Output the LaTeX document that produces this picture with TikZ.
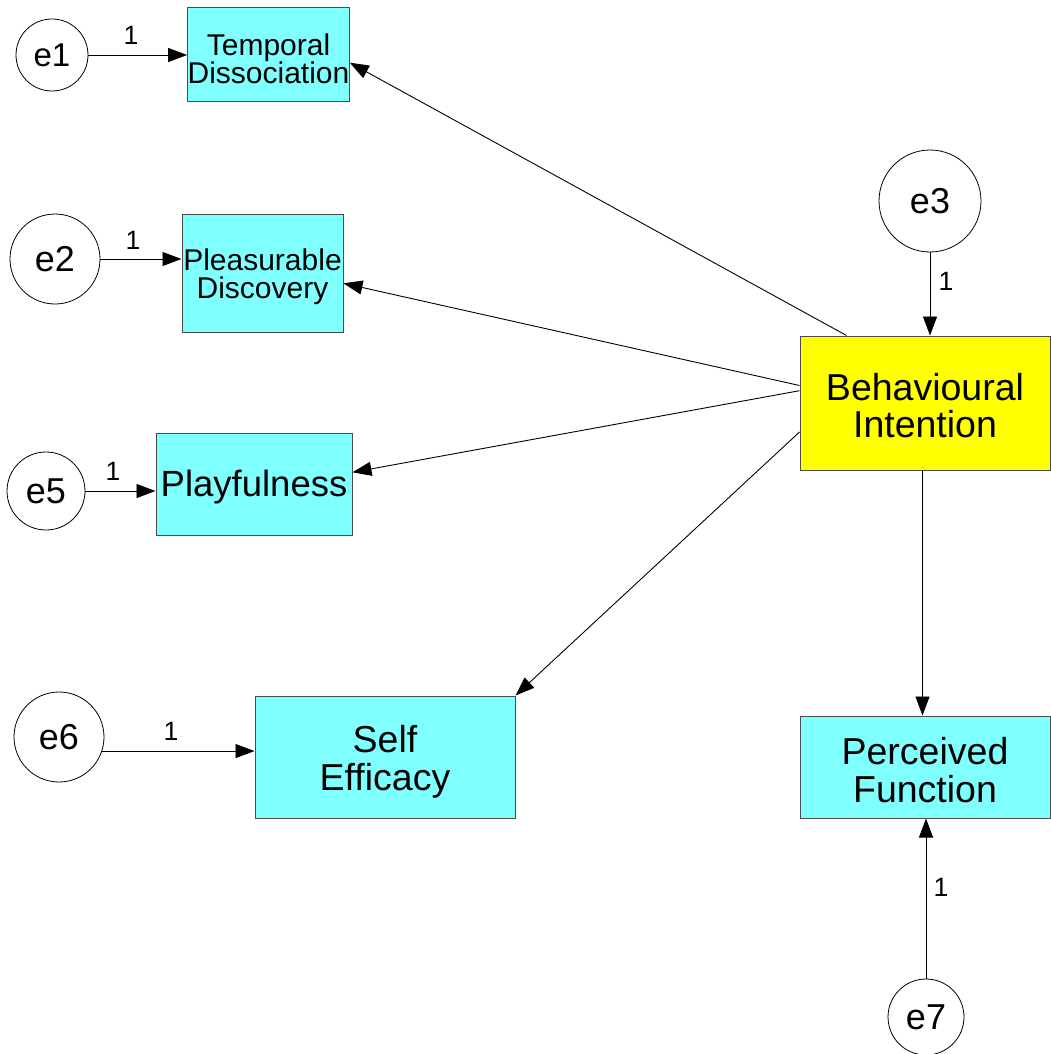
\documentclass[tikz,border=0pt]{standalone}
\usepackage{fontspec}
\setmainfont{Liberation Sans}
\usetikzlibrary{arrows.meta,calc}
\definecolor{boxcyan}{HTML}{80FFFF}
\definecolor{boxyellow}{HTML}{FFFF00}
\newcommand{\smallf}{\fontsize{30}{28}\selectfont}
\newcommand{\bigf}{\fontsize{37.5}{37.5}\selectfont}
\newcommand{\up}[1]{\rule{0pt}{#1pt}}
\begin{document}
\begin{tikzpicture}[x=1pt,y=-1pt,
  varbox/.style={draw=black!70, line width=1pt, fill=boxcyan, inner sep=0pt, align=center},
  errc/.style={circle, draw=black, line width=0.8pt, fill=white, inner sep=0pt, font=\fontsize{36}{36}\selectfont},
  pathto/.style={-{Triangle[length=19pt,width=14pt]}, line width=0.9pt, draw=black},
  one/.style={font=\fontsize{26.5}{26.5}\selectfont, inner sep=0pt}]
\fill[white] (0,0) rectangle (1050,1054);
\useasboundingbox (0,0) rectangle (1050,1054);

% observed / latent boxes
\node[varbox, minimum width=161pt, minimum height=94pt, font=\smallf] (TD) at (268.5,55) {\up{30}Temporal\\Dissociation};
\node[varbox, minimum width=161pt, minimum height=118pt, font=\smallf] (PD) at (262.5,273) {\up{30}Pleasurable\\Discovery};
\node[varbox, minimum width=196pt, minimum height=102pt, font=\fontsize{36.5}{37}\selectfont] (PL) at (254,484) {\up{32}Playfulness};
\node[varbox, minimum width=260pt, minimum height=122pt, font=\bigf] (SE) at (385,757) {\up{37}Self\\Efficacy};
\node[varbox, fill=boxyellow, minimum width=250pt, minimum height=134pt, font=\bigf] (BI) at (925,403) {\up{32}Behavioural\\Intention};
\node[varbox, minimum width=250pt, minimum height=102pt, font=\bigf] (PF) at (925,767) {\up{33}Perceived\\Function};

% error terms
\node[errc, minimum size=72pt, font=\fontsize{33}{33}\selectfont] (e1) at (52,55) {e1};
\node[errc, minimum size=90pt] (e2) at (55,259) {e2};
\node[errc, minimum size=78pt] (e5) at (46,491) {e5};
\node[errc, minimum size=90pt] (e6) at (59,737) {e6};
\node[errc, minimum size=102pt] (e3) at (930,201) {e3};
\node[errc, minimum size=76pt] (e7) at (926,1017) {e7};

% error paths
\draw[pathto] (e1) -- (TD);
\draw[pathto] (e2.east) -- (e2.east -| PD.west);
\draw[pathto] (e5.east) -- (e5.east -| PL.west);
\draw[pathto] (e6.-18) -- (e6.-18 -| SE.west);
\draw[pathto] (e3) -- (e3 |- BI.north);
\draw[pathto] (e7) -- (e7 |- PF.south);

% structural paths
\draw[pathto] ([xshift=-2.5pt]BI.south) -- ([xshift=-2.5pt]PF.north);
\draw[pathto] ($(BI.north west)+(47,0)$) -- ($(TD.east)+(0,7.7)$);
\draw[pathto] ($(BI.west)+(0,-17.5)$) -- ($(PD.east)+(0,10.3)$);
\draw[pathto] ($(BI.west)+(0,-12.3)$) -- ($(PL.east)+(0,-11.7)$);
\draw[pathto] ($(BI.west)+(0,29)$) -- (SE.north east);

% fixed loadings
\node[one] (l1) at (131,35) {1};
\node[one] (l2) at (133,240) {1};
\node[one] (l5) at (113,471) {1};
\node[one] (l6) at (171,731) {1};
\node[one] (l3) at (946,281) {1};
\node[one] (l7) at (941,887) {1};
\end{tikzpicture}
\end{document}
